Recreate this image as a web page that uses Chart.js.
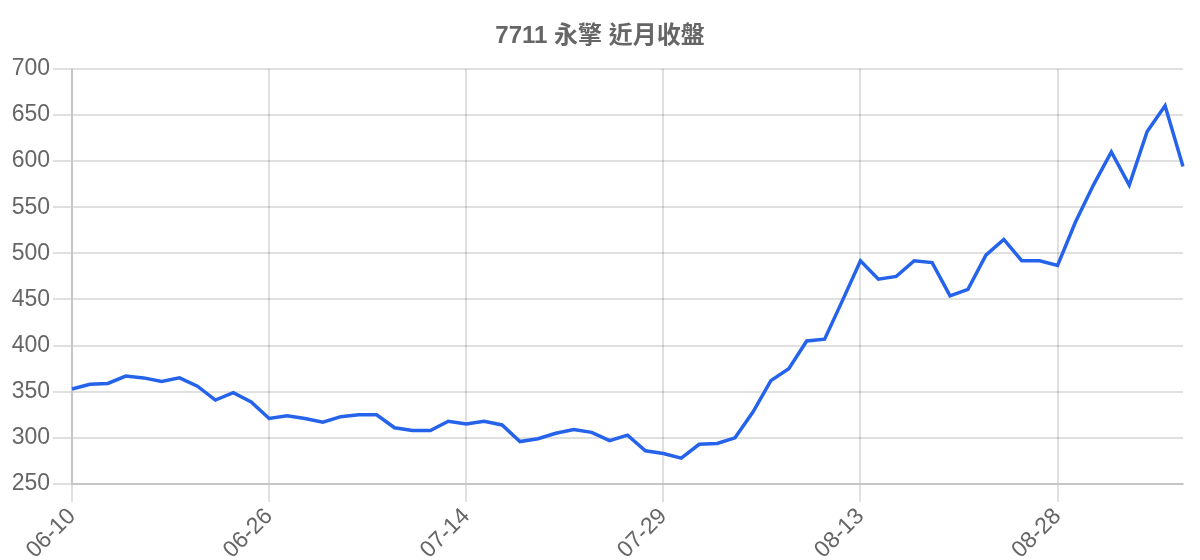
<!DOCTYPE html>
<html>
<head>
<meta charset="utf-8">
<script src="https://cdn.jsdelivr.net/npm/chart.js@4"></script>
<style>
    body { margin: 0; background: #fff; }
    #wrap { width: 1200px; height: 560px; }
</style>
</head>
<body>
<div id="wrap"><canvas id="priceChart"></canvas></div>
<script>
const dates = [
    '06-10', '06-11', '06-12', '06-13', '06-16', '06-17', '06-18', '06-19', '06-23', '06-24', '06-25',
    '06-26', '06-27', '06-30', '07-01', '07-02', '07-03', '07-07', '07-08', '07-09', '07-10', '07-11',
    '07-14', '07-15', '07-16', '07-17', '07-18', '07-21', '07-22', '07-23', '07-24', '07-25', '07-28',
    '07-29', '07-30', '07-31', '08-01', '08-04', '08-05', '08-06', '08-07', '08-08', '08-11', '08-12',
    '08-13', '08-14', '08-15', '08-18', '08-19', '08-20', '08-21', '08-22', '08-25', '08-26', '08-27',
    '08-28', '08-29', '09-01', '09-02', '09-03', '09-04', '09-05', '09-08'
];
const closes = [
    353, 358, 359, 367, 365, 361, 365, 356, 341, 349, 339,
    321, 324, 321, 317, 323, 325, 325, 311, 308, 308, 318,
    315, 318, 314, 296, 299, 305, 309, 306, 297, 303, 286,
    283, 278, 293, 294, 300, 328, 362, 375, 405, 407, 449,
    492, 472, 475, 492, 490, 454, 461, 498, 515, 492, 492,
    487, 534, 574, 610, 574, 632, 660, 594
];
const yMin = 250;
const yMax = 700;
const yStep = 50;

const fontFamily = "'Liberation Sans', Arial, 'Noto Sans CJK TC', sans-serif";
const gridColor = 'rgba(0, 0, 0, 0.12)';

const ctx = document.getElementById('priceChart').getContext('2d');
new Chart(ctx, {
    type: 'line',
    data: {
        labels: dates,
        datasets: [{
            label: '收盤',
            data: closes,
            borderColor: '#2563eb',
            backgroundColor: '#2563eb',
            borderWidth: 3.5,
            pointRadius: 0,
            tension: 0,
            fill: false,
        }],
    },
    options: {
        responsive: true,
        maintainAspectRatio: false,
        animation: false,
        plugins: {
            legend: { display: false },
            title: {
                display: true,
                text: '7711 永擎 近月收盤',
                color: '#666',
                font: { family: fontFamily, size: 24, weight: 'bold' },
                padding: { top: 22, bottom: 18 },
            },
            tooltip: { enabled: false },
        },
        scales: {
            x: {
                ticks: {
                    color: '#666',
                    font: { family: fontFamily, size: 23 },
                    maxRotation: 45,
                    minRotation: 45,
                    autoSkip: true,
                    maxTicksLimit: 6,
                    padding: 1,
                },
                grid: { tickLength: 18, color: gridColor, lineWidth: 2 },
                border: { color: gridColor, width: 2 },
                afterFit: (scale) => {
                    scale.height = 76;
                    scale.paddingLeft = 0;
                    scale.paddingRight = 17;
                },
            },
            y: {
                min: yMin,
                max: yMax,
                ticks: {
                    stepSize: yStep,
                    color: '#666',
                    font: { family: fontFamily, size: 23 },
                    padding: 3,
                },
                grid: { tickLength: 19, color: gridColor, lineWidth: 2 },
                border: { color: gridColor, width: 2 },
                afterFit: (scale) => { scale.width = 72; },
            },
        },
    },
});
</script>
</body>
</html>
